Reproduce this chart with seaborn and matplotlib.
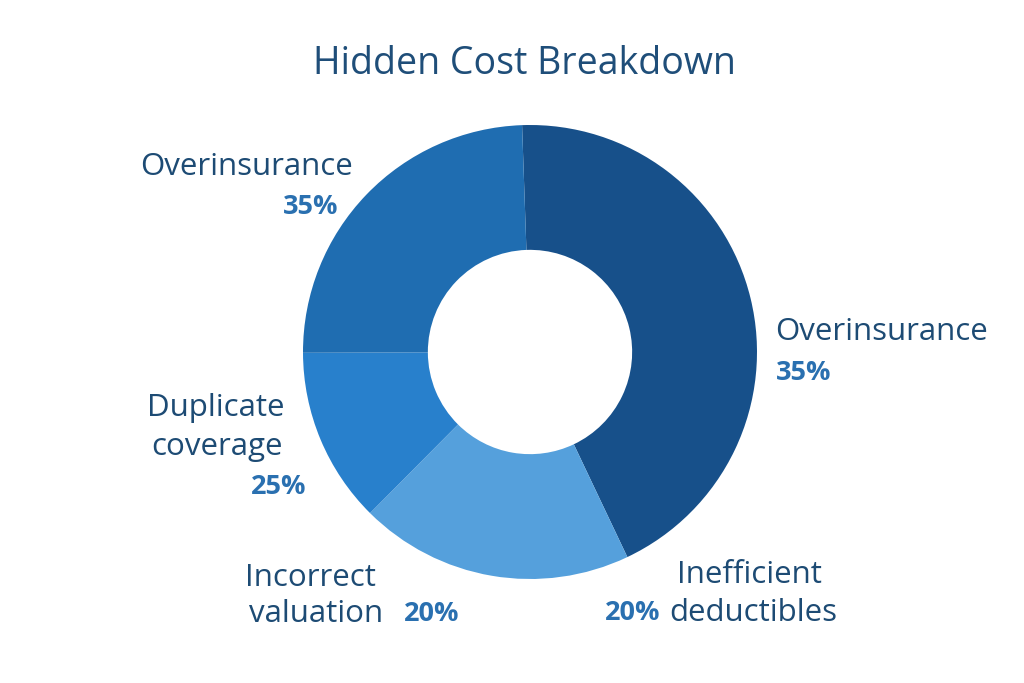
import matplotlib
matplotlib.use("Agg")
import matplotlib.pyplot as plt
import seaborn as sns

# ---- data ----
title = "Hidden Cost Breakdown"
slice_names = ["Overinsurance", "Inefficient deductibles / Incorrect valuation",
               "Duplicate coverage", "Overinsurance"]
slice_shares = [43.5, 19.5, 12.5, 24.5]          # angular share as drawn
slice_colors = ["#17508a", "#55a0dc", "#2880cc", "#1f6db1"]

label_names = ["Overinsurance", "Overinsurance", "Duplicate\ncoverage",
               "Incorrect\nvaluation", "Inefficient\ndeductibles"]
label_pcts = ["35%", "35%", "25%", "20%", "20%"]

sns.set_style("white")
plt.rcParams["font.family"] = ["Open Sans", "DejaVu Sans"]

fig = plt.figure(figsize=(10.24, 6.83), dpi=100)
fig.patch.set_facecolor("white")

W, H = 1024, 683
cx, cy, r = 530, 352, 227
ax = fig.add_axes([(cx - r) / W, (H - cy - r) / H, 2 * r / W, 2 * r / H])
ax.pie(slice_shares, colors=slice_colors, startangle=92, counterclock=False,
       radius=1.0, wedgeprops=dict(width=0.55, linewidth=0))
ax.set_xlim(-1, 1)
ax.set_ylim(-1, 1)
ax.set_aspect("equal")
ax.axis("off")

name_color = "#1d4b74"
pct_color = "#2a70b0"
fs_name = 22.5
fs_pct = 19.5

def px(x, y):
    return x / W, 1 - y / H

fig.text(*px(524, 64), title, ha="center", va="center", fontsize=27, color="#1f4e79")

# upper-left Overinsurance
fig.text(*px(353, 167), label_names[0], ha="right", va="center", fontsize=fs_name, color=name_color)
fig.text(*px(338, 207), label_pcts[0], ha="right", va="center", fontsize=fs_pct,
         fontweight="bold", color=pct_color)
# right Overinsurance
fig.text(*px(775, 332), label_names[1], ha="left", va="center", fontsize=fs_name, color=name_color)
fig.text(*px(776, 373), label_pcts[1], ha="left", va="center", fontsize=fs_pct,
         fontweight="bold", color=pct_color)
# Duplicate coverage
dl = label_names[2].split("\n")
fig.text(*px(216, 408), dl[0], ha="center", va="center", fontsize=fs_name, color=name_color)
fig.text(*px(217, 447), dl[1], ha="center", va="center", fontsize=fs_name, color=name_color)
fig.text(*px(306, 487), label_pcts[2], ha="right", va="center", fontsize=fs_pct,
         fontweight="bold", color=pct_color)
# Incorrect valuation
il = label_names[3].split("\n")
fig.text(*px(245, 578), il[0], ha="left", va="center", fontsize=fs_name, color=name_color)
fig.text(*px(249, 614), il[1], ha="left", va="center", fontsize=fs_name, color=name_color)
fig.text(*px(404, 614), label_pcts[3], ha="left", va="center", fontsize=fs_pct,
         fontweight="bold", color=pct_color)
# Inefficient deductibles
el = label_names[4].split("\n")
fig.text(*px(749, 575), el[0], ha="center", va="center", fontsize=fs_name, color=name_color)
fig.text(*px(660, 613), label_pcts[4], ha="right", va="center", fontsize=fs_pct,
         fontweight="bold", color=pct_color)
fig.text(*px(669, 613), el[1], ha="left", va="center", fontsize=fs_name, color=name_color)

fig.savefig("out.png", dpi=100, facecolor="white")
